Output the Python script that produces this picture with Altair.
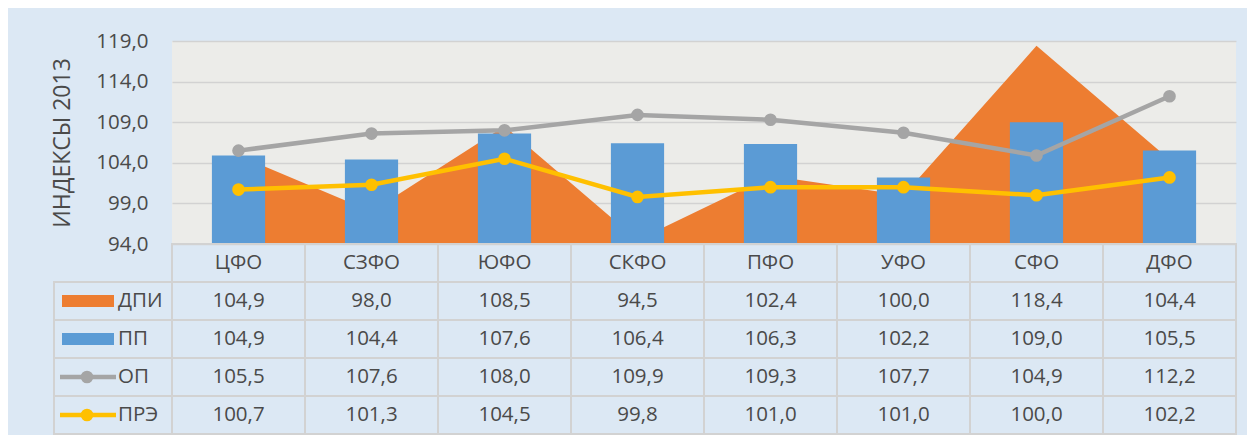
import altair as alt
import pandas as pd

categories = ["ЦФО", "СЗФО", "ЮФО", "СКФО", "ПФО", "УФО", "СФО", "ДФО"]
dpi = [104.9, 98.0, 108.5, 94.5, 102.4, 100.0, 118.4, 104.4]
pp = [104.9, 104.4, 107.6, 106.4, 106.3, 102.2, 109.0, 105.5]
op = [105.5, 107.6, 108.0, 109.9, 109.3, 107.7, 104.9, 112.2]
pre = [100.7, 101.3, 104.5, 99.8, 101.0, 101.0, 100.0, 102.2]
series_names = ["ДПИ", "ПП", "ОП", "ПРЭ"]
series_colors = ["#ED7D31", "#5B9BD5", "#A5A5A5", "#FFC000"]
series_kinds = ["area", "bar", "line", "line"]
y_ticks = [94, 99, 104, 109, 114, 119]
y_title = "ИНДЕКСЫ 2013"

series_values = [dpi, pp, op, pre]
TEXT = "#4A4A4A"
GRID = "#D2D2D2"
FONT = "Open Sans"

long_rows = []
for name, vals in zip(series_names, series_values):
    for c, v in zip(categories, vals):
        long_rows.append({"category": c, "series": name, "value": v})
df_long = pd.DataFrame(long_rows)

table_rows = ["hdr"] + series_names
tbl = []
for c in categories:
    tbl.append({"category": c, "row": "hdr", "label": c})
for name, vals in zip(series_names, series_values):
    for c, v in zip(categories, vals):
        tbl.append({"category": c, "row": name, "label": f"{v:.1f}".replace(".", ",")})
df_table = pd.DataFrame(tbl)
df_legend = pd.DataFrame({"row": series_names, "series": series_names, "kind": series_kinds})

color = alt.Color("series:N", scale=alt.Scale(domain=series_names, range=series_colors), legend=None)

x_top = alt.X("category:N", sort=categories, axis=None,
              scale=alt.Scale(type="band", paddingInner=0.6, paddingOuter=0.3))
y_top = alt.Y("value:Q", stack=None,
              scale=alt.Scale(domain=[y_ticks[0], y_ticks[-1]], zero=False, nice=False),
              axis=alt.Axis(values=y_ticks, title=y_title, domain=False, ticks=False,
                            labelExpr="replace(format(datum.value, '.1f'), '.', ',')",
                            labelFontSize=20.5, labelColor=TEXT, labelPadding=24, labelFont=FONT,
                            titleFontSize=23, titleFontWeight="normal", titleColor=TEXT,
                            titleFont=FONT, titlePadding=21,
                            gridColor=GRID, gridWidth=1.5))

base = alt.Chart(df_long).encode(x=x_top, y=y_top, color=color)
area = base.transform_filter(alt.datum.series == "ДПИ").mark_area(opacity=1).encode(y2=alt.value(203))
bars = base.transform_filter(alt.datum.series == "ПП").mark_bar()
line_op = base.transform_filter(alt.datum.series == "ОП").mark_line(
    strokeWidth=4.5, point=alt.OverlayMarkDef(filled=True, size=160, opacity=1))
line_pre = base.transform_filter(alt.datum.series == "ПРЭ").mark_line(
    strokeWidth=4.5, point=alt.OverlayMarkDef(filled=True, size=160, opacity=1))

top = alt.layer(area, bars, line_op, line_pre).properties(
    width=1064, height=203,
    view=alt.ViewBackground(fill="#ECECE9", strokeWidth=0))

tx = alt.X("category:N", sort=categories, axis=None,
           scale=alt.Scale(type="band", paddingInner=0, paddingOuter=0))
ty = alt.Y("row:N", sort=table_rows, axis=None,
           scale=alt.Scale(domain=table_rows, paddingInner=0, paddingOuter=0))
tyc = alt.Y("row:N", sort=table_rows, axis=None, bandPosition=0.5,
            scale=alt.Scale(domain=table_rows, paddingInner=0, paddingOuter=0))

cells = alt.Chart(df_table).mark_rect(fill="transparent", stroke=GRID, strokeWidth=2).encode(x=tx, y=ty)
texts = alt.Chart(df_table).mark_text(fontSize=20.5, color=TEXT, font=FONT).encode(
    x=tx, y=tyc, text="label:N")
leg_cells = alt.Chart(df_legend).mark_rect(fill="transparent", stroke=GRID, strokeWidth=2).encode(
    x=alt.value(-118), x2=alt.value(0), y=ty)
swatch = alt.Chart(df_legend).transform_filter("datum.kind != 'line'").mark_rule(strokeWidth=12).encode(
    x=alt.value(-110), x2=alt.value(-58), y=tyc, color=color)
leg_line = alt.Chart(df_legend).transform_filter("datum.kind == 'line'").mark_rule(strokeWidth=4.5).encode(
    x=alt.value(-112), x2=alt.value(-56), y=tyc, color=color)
leg_pt = alt.Chart(df_legend).transform_filter("datum.kind == 'line'").mark_circle(size=160, opacity=1).encode(
    x=alt.value(-85), y=tyc, color=color)
leg_txt = alt.Chart(df_legend).mark_text(align="left", fontSize=20.5, color=TEXT, font=FONT).encode(
    x=alt.value(-54), y=tyc, text="series:N")

bottom = alt.layer(cells, texts, leg_cells, swatch, leg_line, leg_pt, leg_txt).properties(
    width=1064, height=190,
    view=alt.ViewBackground(fill="transparent", strokeWidth=0))

chart = alt.vconcat(top, bottom, spacing=0, bounds="flush").resolve_scale(
    x="independent", y="independent"
).properties(
    padding={"left": 43, "top": 23, "right": 10, "bottom": 0}
).configure(background="#DCE8F4", font=FONT).configure_view(strokeWidth=0)

chart.save("out.html", embed_options={"renderer": "svg", "actions": False})
